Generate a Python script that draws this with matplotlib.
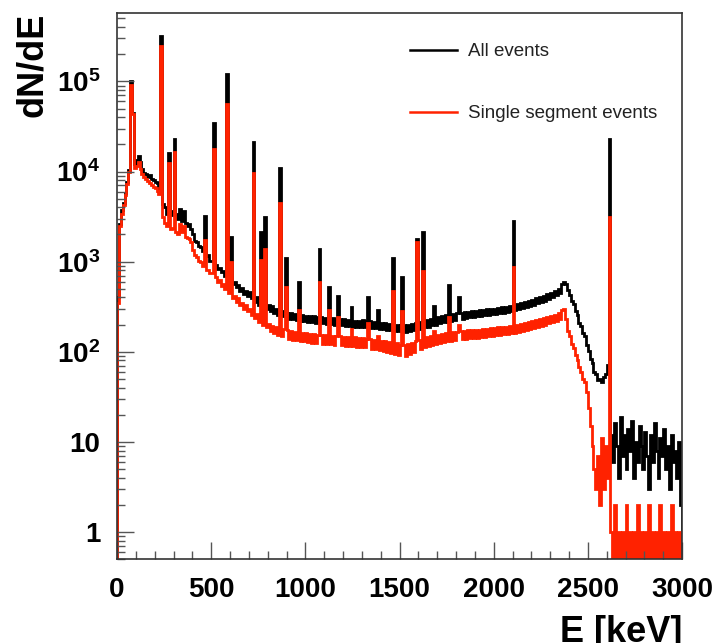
import numpy as np
import matplotlib
matplotlib.use("Agg")
import matplotlib.pyplot as plt
from matplotlib.lines import Line2D
from matplotlib.ticker import MultipleLocator, LogLocator, NullFormatter

plt.rcParams['font.family'] = ['Liberation Sans', 'DejaVu Sans']
plt.rcParams['mathtext.fontset'] = 'custom'
plt.rcParams['mathtext.rm'] = 'Liberation Sans:bold'
plt.rcParams['mathtext.bf'] = 'Liberation Sans:bold'
plt.rcParams['mathtext.it'] = 'Liberation Sans:bold'

# 10 keV bins, 0 - 3000 keV (continuum, one row per 100 keV)
bin_width = 10
all_continuum = [
    400, 2600, 3700, 4500, 5800, 7600, 10500, 11000, 11500, 12000,
    13500, 14800, 12600, 10600, 9700, 9300, 8700, 9100, 8300, 8100,
    7700, 7400, 6300, 5600, 4400, 4000, 3400, 3700, 3300, 3600,
    3000, 3400, 3000, 3200, 2800, 3000, 2700, 2500, 2600, 2300,
    2000, 1700, 1650, 1500, 1450, 1300, 1320, 1150, 1180, 1020,
    1020, 900, 920, 820, 850, 760, 780, 690, 720, 620,
    640, 560, 600, 520, 550, 470, 510, 440, 470, 410,
    460, 390, 420, 360, 400, 330, 370, 320, 350, 300,
    330, 280, 320, 270, 300, 255, 290, 250, 280, 240,
    272, 232, 268, 228, 264, 226, 260, 222, 256, 218,
    250, 214, 248, 212, 246, 210, 244, 208, 242, 206,
    238, 204, 236, 202, 234, 200, 232, 198, 230, 196,
    228, 195, 226, 192, 224, 190, 222, 188, 220, 186,
    225, 190, 222, 188, 218, 185, 215, 182, 212, 180,
    210, 178, 207, 175, 204, 172, 202, 170, 200, 168,
    198, 166, 196, 165, 198, 168, 202, 172, 206, 176,
    212, 180, 218, 186, 224, 190, 230, 196, 236, 200,
    242, 206, 248, 212, 254, 216, 258, 220, 262, 224,
    266, 228, 270, 232, 274, 236, 278, 240, 282, 244,
    286, 248, 290, 250, 292, 254, 296, 256, 298, 260,
    300, 262, 304, 266, 310, 270, 316, 276, 322, 282,
    330, 288, 338, 296, 346, 304, 356, 312, 366, 322,
    378, 332, 390, 344, 402, 356, 416, 370, 432, 384,
    450, 402, 470, 424, 492, 450, 560, 600, 570, 480,
    430, 365, 335, 280, 255, 210, 195, 160, 148, 118,
    102, 84, 74, 60, 56, 48, 50, 46, 53, 56,
    72, 80, 12, 6, 16, 9, 4, 19, 7, 12,
    5, 14, 8, 17, 4, 10, 6, 15, 9, 5,
    13, 7, 3, 12, 6, 16, 8, 4, 11, 7,
    14, 5, 9, 3, 12, 6, 8, 4, 10, 2,
]
single_continuum = [
    350, 2500, 3400, 4300, 5500, 7300, 10000, 10500, 11000, 11000,
    11500, 12800, 10800, 9400, 8600, 8200, 7800, 7400, 7000, 6800,
    6500, 6100, 5600, 5100, 3100, 2700, 2500, 2350, 2300, 2350,
    2250, 2150, 2050, 2000, 2150, 1950, 1900, 1850, 1800, 1650,
    1350, 1180, 1120, 1020, 1000, 900, 890, 810, 800, 740,
    740, 660, 680, 600, 620, 540, 560, 500, 510, 450,
    460, 390, 420, 360, 390, 330, 350, 300, 330, 280,
    300, 255, 280, 235, 260, 215, 240, 200, 225, 190,
    205, 170, 195, 160, 188, 152, 182, 148, 178, 145,
    172, 140, 168, 136, 166, 134, 164, 132, 162, 130,
    160, 128, 158, 126, 156, 125, 155, 124, 154, 123,
    152, 122, 151, 121, 150, 120, 149, 119, 148, 118,
    147, 117, 146, 116, 145, 115, 144, 114, 143, 113,
    142, 112, 140, 110, 138, 108, 136, 106, 134, 104,
    132, 102, 130, 100, 128, 96, 126, 94, 124, 92,
    120, 88, 118, 90, 122, 94, 126, 98, 130, 102,
    136, 108, 140, 112, 144, 116, 148, 120, 152, 122,
    155, 125, 158, 128, 160, 130, 162, 132, 164, 134,
    166, 136, 168, 138, 170, 140, 172, 141, 174, 142,
    175, 143, 176, 144, 178, 146, 180, 148, 182, 150,
    184, 152, 186, 154, 188, 156, 190, 158, 192, 160,
    196, 162, 200, 166, 204, 170, 208, 174, 212, 178,
    218, 182, 224, 188, 230, 194, 236, 200, 244, 206,
    250, 214, 258, 222, 268, 232, 288, 300, 230, 170,
    150, 122, 110, 92, 80, 68, 60, 50, 46, 36,
    24, 15, 9, 5, 3, 7, 2, 11, 3, 9,
    4, 30, 1, 0, 2, 0, 1, 0, 1, 0,
    2, 0, 1, 0, 1, 0, 2, 0, 1, 0,
    1, 0, 2, 0, 1, 0, 1, 0, 2, 0,
    1, 0, 1, 0, 2, 0, 1, 0, 1, 0,
]

# gamma lines: energy [keV], height in all events, height in single segment events
peak_energy = [75, 87, 238, 277, 300, 330, 350, 463, 511, 583, 609, 727, 763,
               785, 860, 893, 965, 1078, 1126, 1173, 1242, 1334, 1381, 1460,
               1514, 1592, 1621, 1684, 1764, 1811, 2103, 2614]
peak_all = [1.0e5, 4.5e4, 3.2e5, 1.6e4, 2.3e4, 3800, 3600, 3200, 3.5e4, 1.2e5,
            1900, 2.1e4, 2150, 3100, 1.1e4, 1100, 600, 1370, 520, 410, 315,
            400, 290, 1100, 670, 1800, 2150, 325, 550, 400, 2800, 2.3e4]
peak_single = [9.2e4, 4.3e4, 2.5e5, 1.25e4, 1.65e4, 2600, 2500, 1750, 1.8e4,
               5.6e4, 1000, 9700, 1050, 1370, 4500, 520, 290, 600, 290, 240,
               180, 210, 150, 470, 280, 1630, 780, 170, 245, 200, 880, 3150]

edges = np.arange(0, 3000 + bin_width, bin_width)


def build_hist(continuum, heights):
    counts = np.array(continuum, dtype=float)
    for e, h in zip(peak_energy, heights):
        i = int(e // bin_width)
        counts[i] = max(counts[i], h)
    # empty bins go to the bottom of the log axis, like ROOT does
    return np.where(counts > 0, counts, 1e-3)


all_counts = build_hist(all_continuum, peak_all)
single_counts = build_hist(single_continuum, peak_single)

red = '#ff2200'

fig = plt.figure(figsize=(7.18, 6.43), dpi=100)
ax = fig.add_axes([117 / 718, 1 - 559 / 643, 565 / 718, 546 / 643])

ax.stairs(all_counts, edges, baseline=1e-3, color='black', lw=2.0)
ax.stairs(single_counts, edges, baseline=1e-3, color=red, lw=2.0)

ax.set_yscale('log')
ax.set_xlim(0, 3000)
ax.set_ylim(0.5, 5.75e5)

ax.xaxis.set_major_locator(MultipleLocator(500))
ax.xaxis.set_minor_locator(MultipleLocator(100))
ax.set_yticks([1, 10, 100, 1e3, 1e4, 1e5],
              ['1', '10', r'$10^{2}$', r'$10^{3}$', r'$10^{4}$', r'$10^{5}$'])
ax.yaxis.set_minor_locator(LogLocator(base=10, subs=np.arange(2, 10)))
ax.yaxis.set_minor_formatter(NullFormatter())

ax.tick_params(which='both', direction='in', top=False, right=False,
               color='#555555', width=1.0)
ax.tick_params(which='major', length=12)
ax.tick_params(which='minor', length=6)
ax.tick_params(axis='x', pad=13)
ax.tick_params(axis='y', pad=12)
for lab in ax.get_xticklabels() + ax.get_yticklabels():
    lab.set_fontsize(20)
    lab.set_fontweight('bold')

for sp in ax.spines.values():
    sp.set_color('#333333')
    sp.set_linewidth(1.2)

fig.text(33 / 718, 1 - 13 / 643, 'dN/dE', rotation=90, ha='center', va='top',
         fontsize=26, fontweight='bold')
fig.text(682 / 718, 1 - 615 / 643, 'E [keV]', ha='right', va='top',
         fontsize=26, fontweight='bold')

handles = [Line2D([], [], color='black', lw=1.8),
           Line2D([], [], color=red, lw=1.8)]
leg = ax.legend(handles, ['All events', 'Single segment events'],
                loc='upper left', bbox_to_anchor=(0.519, 0.945), frameon=False,
                fontsize=13.5, handlelength=2.5, handletextpad=0.6,
                labelspacing=2.4, borderpad=0, borderaxespad=0)
for t in leg.get_texts():
    t.set_color('#222222')

fig.savefig('out.png', dpi=100)
